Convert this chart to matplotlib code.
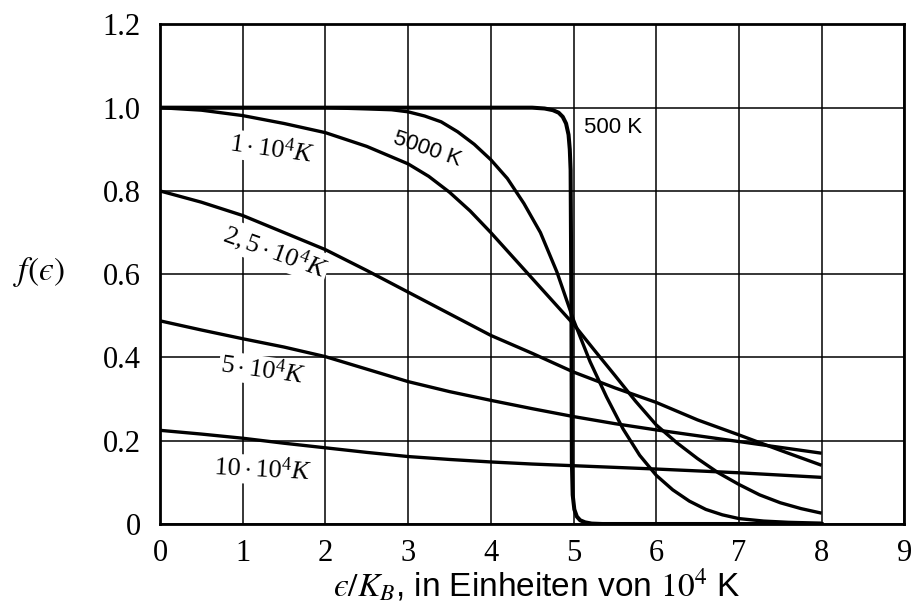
import matplotlib
matplotlib.use("Agg")
import matplotlib.pyplot as plt

plt.rcParams["mathtext.fontset"] = "stix"
plt.rcParams["mathtext.rm"] = "Liberation Serif"
plt.rcParams["mathtext.it"] = "Liberation Serif:italic"

# Fermi-Dirac occupation f(eps) for several temperatures (eps/k_B in 10^4 K)
x_500 = [0, 4.5, 4.65, 4.75, 4.82, 4.87, 4.91, 4.94, 4.955, 4.965, 4.975, 4.98,
         4.99, 5.01, 5.04, 5.08, 5.14, 5.22, 5.35, 8.0]
f_500 = [1.0, 1.0, 0.998, 0.994, 0.988, 0.978, 0.962, 0.935, 0.9, 0.85, 0.5,
         0.15, 0.07, 0.035, 0.018, 0.009, 0.004, 0.001, 0.0, 0.0]

x_5000 = [0, 2, 2.5, 2.8, 3.0, 3.2, 3.4, 3.6, 3.8, 4.0, 4.2, 4.4, 4.6, 4.8,
          5.0, 5.2, 5.4, 5.6, 5.8, 6.0, 6.2, 6.4, 6.6, 6.8, 7.0, 7.3, 7.6, 8.0]
f_5000 = [1.0, 1.0, 0.997, 0.995, 0.99, 0.98, 0.966, 0.942, 0.912, 0.875, 0.83,
          0.77, 0.70, 0.605, 0.49, 0.39, 0.305, 0.228, 0.165, 0.117, 0.082,
          0.055, 0.035, 0.022, 0.013, 0.007, 0.004, 0.002]

x_1e4 = [0, 0.5, 1, 1.5, 2, 2.5, 3, 3.25, 3.5, 3.75, 4, 4.25, 4.5, 4.75, 5,
         5.25, 5.5, 5.75, 6, 6.25, 6.5, 6.75, 7, 7.25, 7.5, 7.75, 8]
f_1e4 = [1.0, 0.994, 0.981, 0.962, 0.94, 0.907, 0.865, 0.835, 0.797, 0.752,
         0.70, 0.645, 0.59, 0.535, 0.48, 0.418, 0.357, 0.295, 0.238, 0.195,
         0.157, 0.123, 0.095, 0.07, 0.051, 0.037, 0.026]

x_25e4 = [0, 0.5, 1, 1.5, 2, 2.5, 3, 3.5, 4, 4.5, 5, 5.5, 6, 6.5, 7, 7.5, 8]
f_25e4 = [0.80, 0.773, 0.741, 0.70, 0.659, 0.609, 0.557, 0.505, 0.453, 0.41,
          0.365, 0.327, 0.292, 0.25, 0.214, 0.177, 0.141]

x_5e4 = [0, 0.5, 1, 1.5, 2, 2.5, 3, 3.5, 4, 4.5, 5, 5.5, 6, 6.5, 7, 7.5, 8]
f_5e4 = [0.488, 0.466, 0.445, 0.425, 0.402, 0.372, 0.342, 0.318, 0.297, 0.277,
         0.258, 0.241, 0.226, 0.212, 0.198, 0.184, 0.170]

x_10e4 = [0, 0.5, 1, 1.5, 2, 2.5, 3, 3.5, 4, 4.5, 5, 6, 7, 8]
f_10e4 = [0.225, 0.216, 0.206, 0.194, 0.183, 0.172, 0.162, 0.155, 0.149, 0.144,
          0.140, 0.132, 0.123, 0.112]

x_ticks = [0, 1, 2, 3, 4, 5, 6, 7, 8, 9]
y_ticks = [0, 0.2, 0.4, 0.6, 0.8, 1.0, 1.2]
y_tick_labels = ["0", "0.2", "0.4", "0.6", "0.8", "1.0", "1.2"]

fig = plt.figure(figsize=(9.12, 6.10), dpi=100)
ax = fig.add_axes([0.1754, 0.141, 0.8162, 0.819])
ax.set_xlim(0, 9)
ax.set_ylim(0, 1.2)

ax.set_xticks(x_ticks)
ax.set_xticklabels([str(t) for t in x_ticks])
ax.set_yticks(y_ticks)
ax.set_yticklabels(y_tick_labels)
ax.tick_params(length=0, labelsize=22)
ax.tick_params(axis="y", pad=14)
ax.tick_params(axis="x", pad=11)
for lab in ax.get_xticklabels() + ax.get_yticklabels():
    lab.set_family("Liberation Serif")

ax.grid(True, color="black", linewidth=1.1, zorder=0)
ax.set_axisbelow(True)
for sp in ax.spines.values():
    sp.set_linewidth(2.0)
    sp.set_zorder(5)

curve_kw = dict(color="black", linewidth=2.4, solid_joinstyle="round",
                solid_capstyle="butt", zorder=4)
ax.plot(x_10e4, f_10e4, **curve_kw)
ax.plot(x_5e4, f_5e4, **curve_kw)
ax.plot(x_25e4, f_25e4, **curve_kw)
ax.plot(x_1e4, f_1e4, **curve_kw)
ax.plot(x_5000, f_5000, **curve_kw)
ax.plot(x_500, f_500, color="black", linewidth=2.9, solid_joinstyle="round",
        zorder=4)

box = dict(facecolor="white", edgecolor="none", pad=1.0)
ax.text(5.48, 0.952, "500 K", family="Liberation Sans", fontsize=16,
        ha="center", va="center", zorder=3)
ax.text(3.23, 0.90, "5000 K", family="Liberation Sans", fontsize=16,
        rotation=-19, ha="center", va="center", zorder=3)
label_kw = dict(fontsize=19, ha="center", va="center", bbox=box, zorder=3,
                math_fontfamily="custom")
ax.text(1.35, 0.90, r"$\mathit{1\cdot 10^4 K}$", rotation=-8, **label_kw)
ax.text(1.39, 0.654, r"$\mathit{2,5\cdot 10^4 K}$", rotation=-20, **label_kw)
ax.text(1.24, 0.368, r"$\mathit{5\cdot 10^4 K}$", rotation=-8, **label_kw)
ax.text(1.24, 0.13, r"$\mathit{10\cdot 10^4 K}$", rotation=-3, **label_kw)

ax.text(-0.163, 0.505, "$f(\u03f5)$", transform=ax.transAxes,
        fontsize=24, ha="center", va="center")
fig.text(0.589, 0.041, "$\u03f5/K_B$, in Einheiten von $10^4$ K",
         family="Liberation Sans", fontsize=24, ha="center", va="center")

fig.savefig("out.png", dpi=100)
